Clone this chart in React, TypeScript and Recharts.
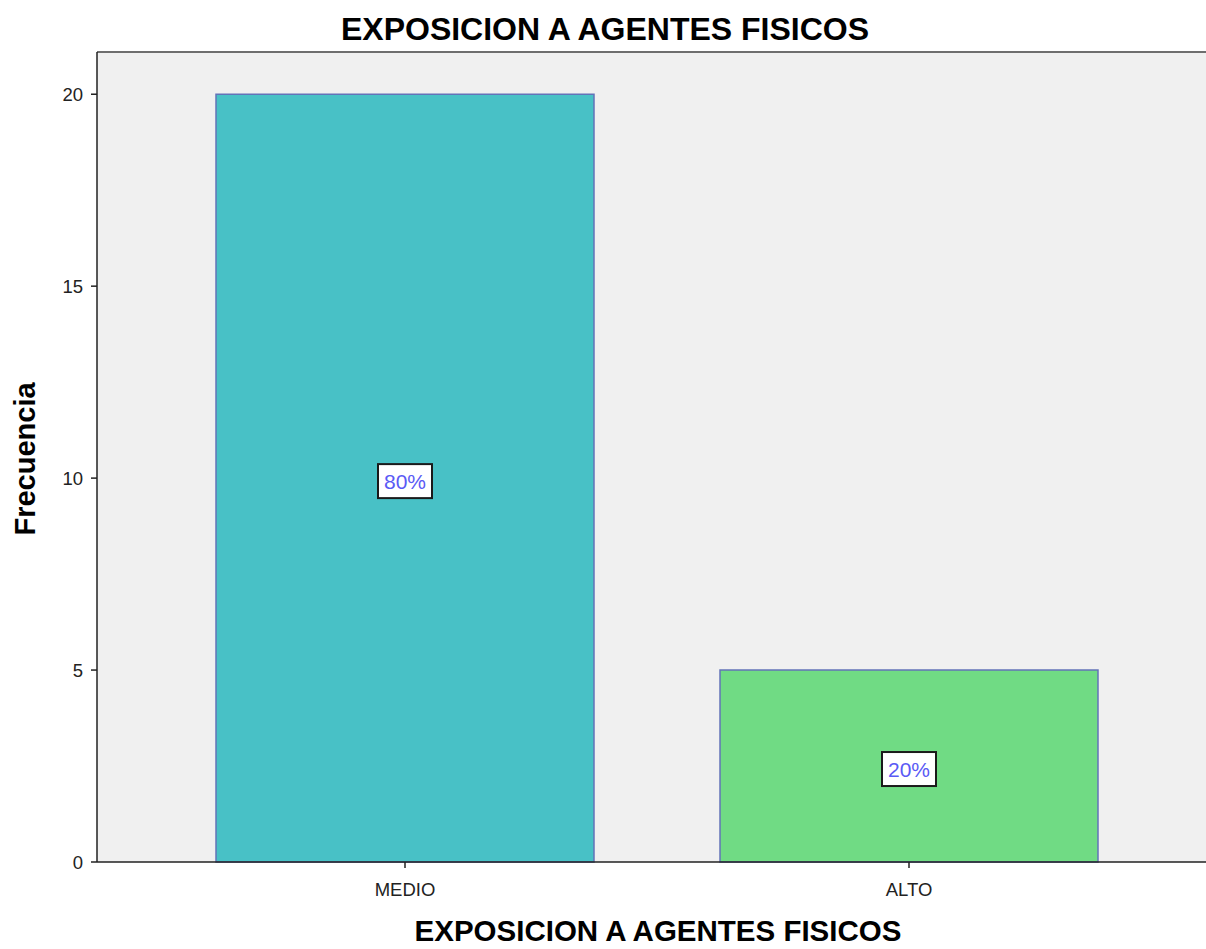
import React from 'react';
import { BarChart, Bar, XAxis, YAxis, CartesianGrid, ReferenceLine, LabelList, Label, Cell } from 'recharts';

const categories = ['MEDIO', 'ALTO'];
const frequencies = [20, 5];
const percentLabels = ['80%', '20%'];
const barColors = ['#48C1C6', '#70DB84'];
const yTicks = [0, 5, 10, 15, 20];

const data = categories.map((c, i) => ({ name: c, value: frequencies[i], pct: percentLabels[i] }));

const FONT = '"Liberation Sans", Arial, sans-serif';

const PctLabel = (props: any) => {
  const { x, y, width, height, index } = props;
  const cx = Number(x) + Number(width) / 2;
  const cy = Number(y) + Number(height) / 2 + 3;
  const w = 54;
  const h = 34;
  return (
    <g>
      <rect x={cx - w / 2} y={cy - h / 2} width={w} height={h} fill="#ffffff" stroke="#1a1a1a" strokeWidth={2} />
      <text x={cx} y={cy} dy="0.36em" textAnchor="middle" fill="#5a5af5" fontSize={21} fontFamily={FONT}>
        {percentLabels[index]}
      </text>
    </g>
  );
};

export default function App() {
  return (
    <div style={{ position: 'absolute', left: 0, top: 0, width: 1206, height: 949, background: '#fff', overflow: 'hidden' }}>
      <div
        style={{
          position: 'absolute',
          left: 0,
          width: 1210,
          top: 10,
          textAlign: 'center',
          fontFamily: FONT,
          fontWeight: 'bold',
          fontSize: 32,
          color: '#000',
          lineHeight: '38px',
        }}
      >
        EXPOSICION A AGENTES FISICOS
      </div>
      <BarChart
        width={1206}
        height={949}
        data={data}
        margin={{ top: 52, right: 0, bottom: 0, left: 0 }}
        style={{ position: 'absolute', left: 0, top: 0 }}
      >
        <CartesianGrid fill="#F0F0F0" horizontal={false} vertical={false} stroke="none" />
        <ReferenceLine y={21.1} stroke="#6e6e6e" strokeWidth={2} ifOverflow="extendDomain" />
        <XAxis
          dataKey="name"
          height={87}
          padding={{ left: 56, right: 45 }}
          tickSize={6}
          tickMargin={15}
          stroke="#222"
          strokeWidth={1.5}
          tick={{ fill: '#222', fontSize: 18.5, fontFamily: FONT }}
        >
          <Label
            content={() => (
              <text x={658} y={941} textAnchor="middle" fontFamily={FONT} fontWeight="bold" fontSize={29.5} fill="#000">
                EXPOSICION A AGENTES FISICOS
              </text>
            )}
          />
        </XAxis>
        <YAxis
          width={97}
          domain={[0, 21.1]}
          ticks={yTicks}
          tickSize={6}
          tickMargin={8}
          stroke="#222"
          strokeWidth={1.5}
          tick={{ fill: '#222', fontSize: 18.5, fontFamily: FONT }}
        >
          <Label
            content={() => (
              <text
                x={35}
                y={459}
                textAnchor="middle"
                transform="rotate(-90 35 459)"
                fontFamily={FONT}
                fontWeight="bold"
                fontSize={29}
                fill="#000"
              >
                Frecuencia
              </text>
            )}
          />
        </YAxis>
        <Bar dataKey="value" barSize={378} stroke="#6373b8" strokeWidth={1.5} isAnimationActive={false}>
          {data.map((d, i) => (
            <Cell key={d.name} fill={barColors[i]} />
          ))}
          <LabelList dataKey="pct" content={PctLabel} />
        </Bar>
      </BarChart>
    </div>
  );
}
